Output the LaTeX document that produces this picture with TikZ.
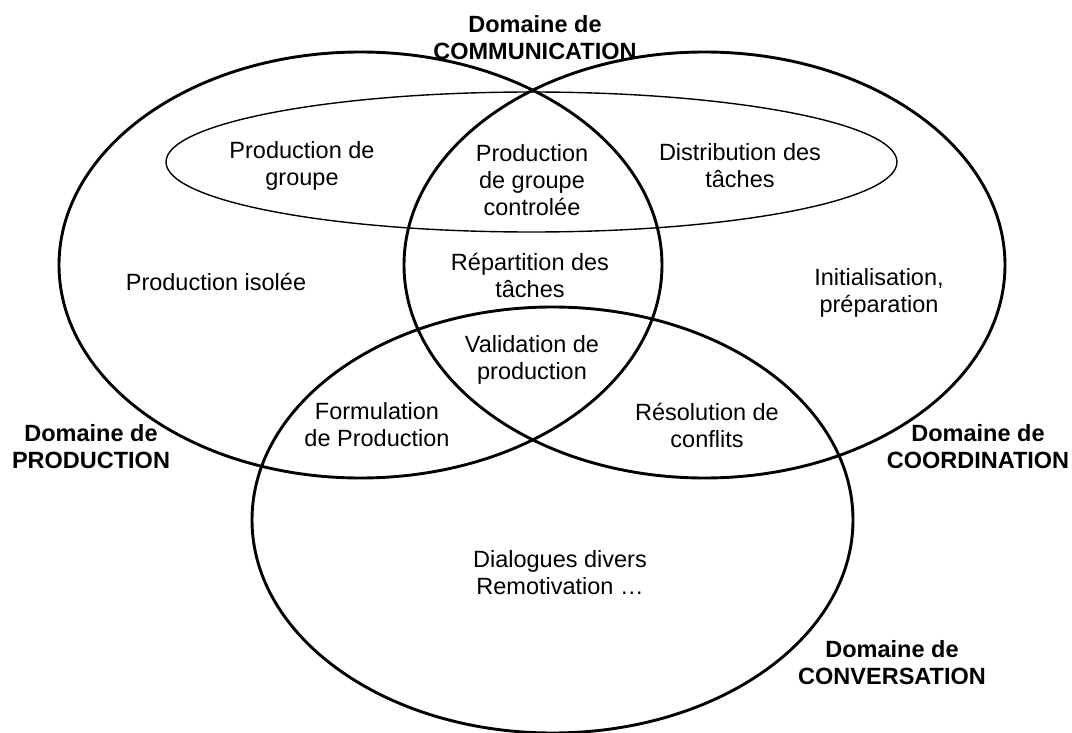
\documentclass[tikz,border=0pt]{standalone}
\usepackage{fontspec}
\setmainfont{Liberation Sans}
\begin{document}
\begin{tikzpicture}[x=1pt,y=-1pt,
  bigell/.style={line width=2.9pt},
  thinell/.style={line width=1.4pt},
  lbl/.style={align=center,inner sep=0pt,font=\fontsize{23.5}{27}\selectfont},
  dom/.style={lbl,font=\fontsize{23.5}{27}\selectfont\bfseries}]
\useasboundingbox (0,0) rectangle (1072,733);
\fill[white] (0,0) rectangle (1072,733);
% domain ellipses
\coordinate (cprod) at (360.5,265);
\coordinate (ccoord) at (704.5,265);
\coordinate (cconv) at (552.5,520);
\coordinate (ccomm) at (531.5,162);
\draw[bigell] (cprod) ellipse [x radius=301.5pt, y radius=213pt];
\draw[bigell] (ccoord) ellipse [x radius=300.5pt, y radius=213pt];
\draw[bigell] (cconv) ellipse [x radius=300.5pt, y radius=213pt];
\draw[thinell] (ccomm) ellipse [x radius=365.5pt, y radius=70pt];
% domain labels
\node[dom] (lcomm) at (535,38) {Domaine de\\COMMUNICATION};
\node[dom] (lprod) at (91,447) {Domaine de\\PRODUCTION};
\node[dom] (lcoord) at (978,447) {Domaine de\\COORDINATION};
\node[dom] (lconv) at (892,663) {Domaine de\\CONVERSATION};
% region labels
\node[lbl] (pg) at (302,166) {Production de\\groupe};
\node[lbl] (pgc) at (532,180) {Production\\de groupe\\controlée};
\node[lbl] (dist) at (740,166) {Distribution des\\tâches};
\node[lbl] (iso) at (216,282) {Production isolée};
\node[lbl] (rep) at (530,275) {Répartition des\\tâches};
\node[lbl] (init) at (879,293) {Initialisation,\\préparation};
\node[lbl] (valid) at (532,360) {Validation de\\production};
\node[lbl] (form) at (377,425) {Formulation\\de Production};
\node[lbl] (reso) at (707,425) {Résolution de\\conflits};
\node[lbl] (dial) at (560,573) {Dialogues divers\\Remotivation …};
\end{tikzpicture}
\end{document}
